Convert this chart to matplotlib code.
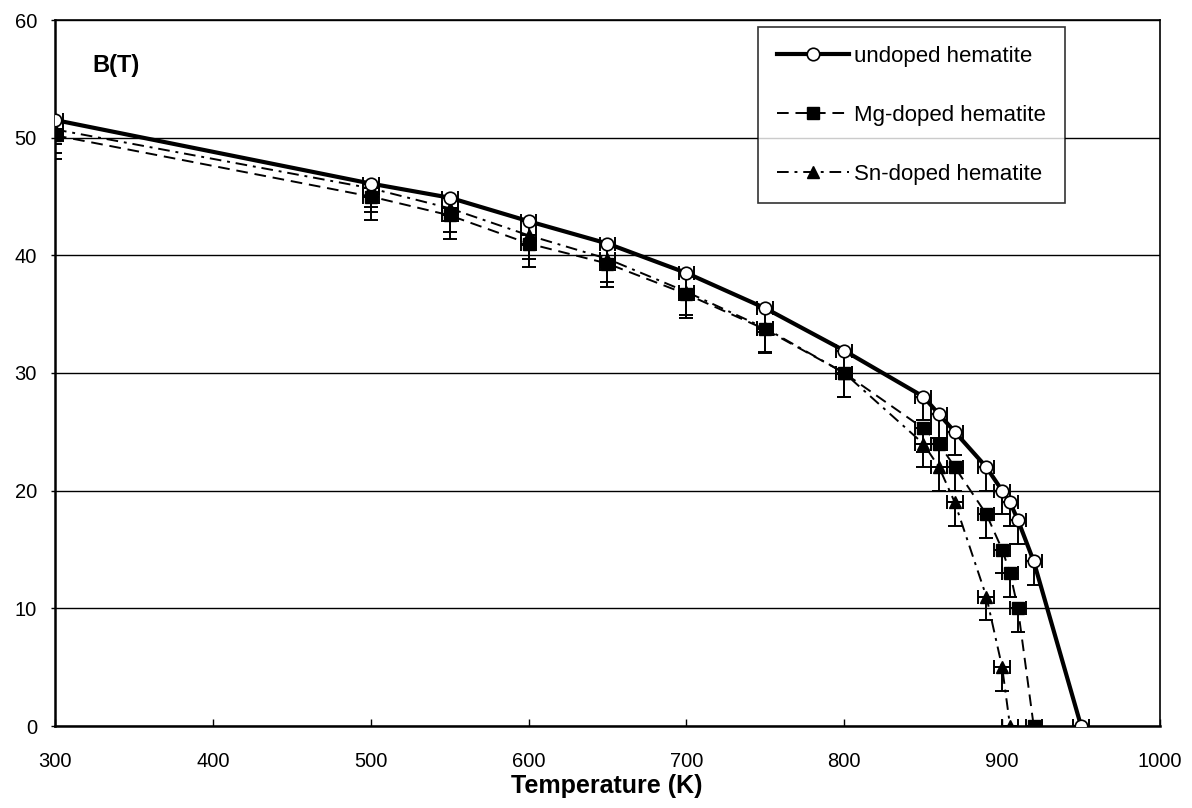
import matplotlib
matplotlib.use("Agg")
import matplotlib.pyplot as plt
import numpy as np

plt.rcParams['font.family'] = ['Liberation Sans', 'DejaVu Sans']

# Hyperfine field B(T) versus temperature
t_undoped = [300, 500, 550, 600, 650, 700, 750, 800, 850, 860, 870, 890, 900, 905, 910, 920, 950]
b_undoped = [51.5, 46.1, 44.9, 42.9, 41.0, 38.5, 35.5, 31.9, 28.0, 26.5, 25.0, 22.0, 20.0, 19.0, 17.5, 14.0, 0.0]

t_mg = [300, 500, 550, 600, 650, 700, 750, 800, 850, 860, 870, 890, 900, 905, 910, 920]
b_mg = [50.2, 45.0, 43.4, 41.0, 39.3, 36.7, 33.7, 30.0, 25.3, 24.0, 22.0, 18.0, 15.0, 13.0, 10.0, 0.0]

t_sn = [300, 500, 550, 600, 650, 700, 750, 800, 850, 860, 870, 890, 900, 905]
b_sn = [50.7, 45.7, 44.0, 41.7, 39.7, 36.9, 33.8, 30.0, 24.0, 22.0, 19.0, 11.0, 5.0, 0.0]

t_err = 5.0      # K, symmetric
b_err_low = 2.0  # T, lower side only

series = [
    ("undoped hematite", t_undoped, b_undoped,
     dict(linestyle='-', linewidth=3.0, marker='o', markerfacecolor='white',
          markeredgecolor='black', markeredgewidth=1.2, markersize=9), 5),
    ("Mg-doped hematite", t_mg, b_mg,
     dict(linestyle=(0, (6, 3.5)), linewidth=1.4, marker='s', markerfacecolor='black',
          markeredgecolor='black', markersize=8.5), 4),
    ("Sn-doped hematite", t_sn, b_sn,
     dict(linestyle=(0, (6, 3, 1.5, 3)), linewidth=1.4, marker='^', markerfacecolor='black',
          markeredgecolor='black', markersize=9), 3),
]

fig = plt.figure(figsize=(11.92, 8.08), dpi=100)
ax = fig.add_axes([55 / 1192, 1 - 726 / 808, 1105 / 1192, 706 / 808])

handles = []
for label, tx, by, style, z in series:
    tx = np.asarray(tx, dtype=float)
    by = np.asarray(by, dtype=float)
    ax.errorbar(tx, by, xerr=t_err,
                yerr=[np.full_like(by, b_err_low), np.zeros_like(by)],
                fmt='none', ecolor='black', elinewidth=1.4, capsize=5,
                capthick=1.4, zorder=z - 0.5)
    line, = ax.plot(tx, by, color='black', label=label, zorder=z, **style)
    handles.append(line)

ax.set_xlim(300, 1000)
ax.set_ylim(0, 60)
ax.set_xticks(np.arange(300, 1001, 100))
ax.set_yticks(np.arange(0, 61, 10))
ax.yaxis.grid(True, color='black', linewidth=1.0)
ax.set_axisbelow(True)
for side in ['left', 'bottom']:
    ax.spines[side].set_linewidth(1.8)
for side in ['top', 'right']:
    ax.spines[side].set_linewidth(1.2)

ax.tick_params(axis='x', direction='in', length=5, width=1, labelsize=14.5, pad=19)
ax.tick_params(axis='y', direction='out', length=3, width=1, labelsize=14.5, pad=10)

# axis title placed in figure coordinates below the tick labels
fig.text(607 / 1192, 1 - 786 / 808, "Temperature (K)", fontsize=18,
         fontweight='bold', ha='center', va='center')
ax.text(0.034, 0.935, "B(T)", transform=ax.transAxes, fontsize=17,
        fontweight='bold', ha='left', va='center')

leg = ax.legend(handles=handles, loc='upper left', bbox_to_anchor=(0.636, 0.99),
                frameon=True, fancybox=False, edgecolor='black', fontsize=16,
                handlelength=3.25, numpoints=1, labelspacing=1.7,
                borderpad=0.85, handletextpad=0.25, borderaxespad=0)
leg.get_frame().set_linewidth(1.2)

fig.savefig("out.png", dpi=100)
